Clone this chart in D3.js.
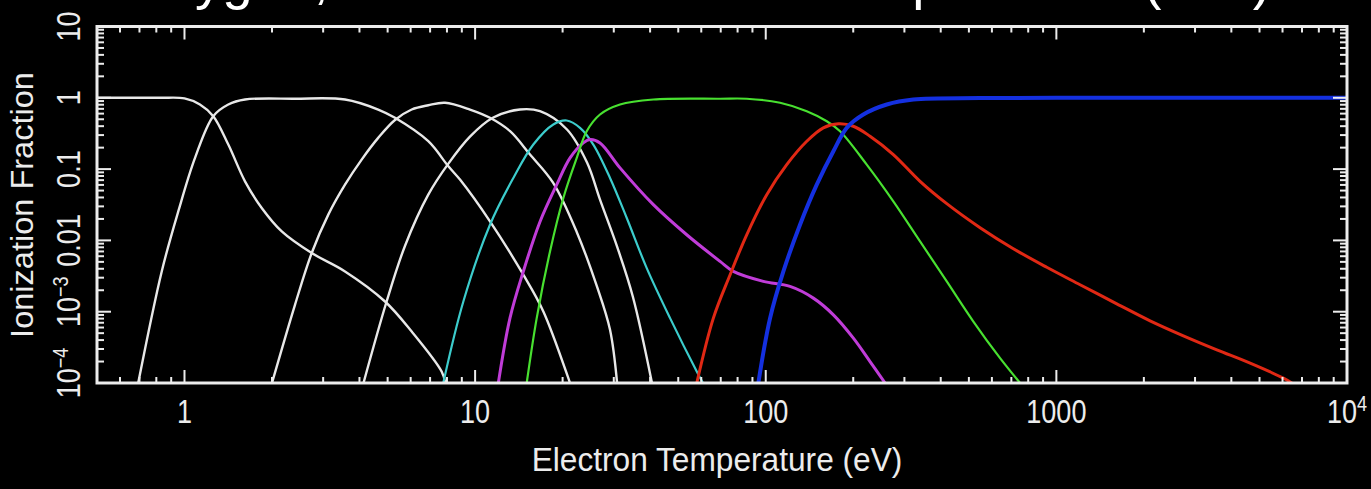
<!DOCTYPE html>
<html><head><meta charset="utf-8">
<script src="https://cdn.jsdelivr.net/npm/d3@7"></script>
<style>html,body{margin:0;padding:0;background:#000;overflow:hidden}svg{display:block}</style>
</head><body>
<svg id="chart" width="1371" height="489"></svg>
<script>
// ---------- data ----------
const xTickValues = [1, 10, 100, 1000, 10000];
const xTickLabels = ["1", "10", "100", "1000", "10^4"];
const yTickValues = [1e-4, 1e-3, 0.01, 0.1, 1, 10];
const yTickLabels = ["10^-4", "10^-3", "0.01", "0.1", "1", "10"];
const xTitle = "Electron Temperature (eV)";
const yTitle = "Ionization Fraction";
const topTitle = "Oxygen, Collisional Ionization Equilibrium (CIE)";

// O I
const o1T = [0.5, 0.82, 1.0, 1.13, 1.256, 1.415, 1.615, 1.844, 2.161, 2.74, 3.567, 4.898, 6.05, 7.67, 7.9];
const o1F = [1, 1, 0.98, 0.805, 0.552, 0.221, 0.0674, 0.0285, 0.01337, 0.00665, 0.00367, 0.00139, 0.000527, 0.000145, 1e-4];
// O II
const o2T = [0.693, 0.835, 0.952, 1.087, 1.256, 1.415, 1.615, 2.40, 3.567, 4.64, 5.30, 6.90, 8.09, 8.87, 11.25, 14.65, 17.17, 20.93, 21.2];
const o2F = [1e-4, 0.00367, 0.0255, 0.1436, 0.552, 0.805, 0.946, 0.97, 0.946, 0.685, 0.524, 0.246, 0.1094, 0.0712, 0.0185, 0.0033, 0.00101, 0.000117, 1e-4];
// O III
const o3T = [2.0, 2.40, 2.74, 3.125, 3.567, 4.07, 4.64, 5.30, 6.05, 6.90, 7.88, 9.60, 11.25, 13.19, 15.45, 18.54, 22.42, 26.27, 29.12, 30.8];
const o3F = [1e-4, 0.00125, 0.00665, 0.0230, 0.0605, 0.136, 0.274, 0.488, 0.685, 0.787, 0.851, 0.685, 0.524, 0.340, 0.160, 0.0646, 0.01283, 0.00224, 0.000557, 1e-4];
// O IV
const o4T = [4.13, 4.96, 5.74, 6.90, 8.09, 9.60, 11.55, 14.27, 16.72, 20.71, 24.27, 26.9, 30.8, 34.9, 40.6];
const o4F = [1e-4, 0.00139, 0.00843, 0.0438, 0.1195, 0.286, 0.529, 0.685, 0.648, 0.359, 0.1234, 0.0373, 0.00816, 0.00162, 1e-4];
// O V (cyan)
const o5T = [7.77, 9.11, 11.25, 13.54, 15.86, 18.58, 20.66, 22.96, 25.51, 29.12, 33.25, 38.95, 46.86, 57.9, 60.8];
const o5F = [1e-4, 0.00139, 0.0166, 0.0752, 0.221, 0.422, 0.480, 0.379, 0.221, 0.0752, 0.0206, 0.00409, 0.000813, 0.000145, 1e-4];
// O VI (magenta)
const o6T = [12.02, 13.18, 14.65, 16.72, 19.09, 21.22, 23.57, 24.85, 26.9, 31.52, 41.05, 53.47, 69.64, 77.36, 98.1, 121.2, 145.8, 170.9, 200.2, 228.5, 257.4];
const o6F = [1e-4, 0.000813, 0.00367, 0.0183, 0.0605, 0.1436, 0.233, 0.260, 0.233, 0.104, 0.0317, 0.0120, 0.00507, 0.00367, 0.00266, 0.00226, 0.00155, 0.000904, 0.000426, 0.0002, 1e-4];
// O VII (green)
const o7T = [15.05, 16.29, 18.10, 20.12, 22.37, 24.21, 26.9, 31.52, 41.05, 69.64, 86.0, 112, 138.4, 162.2, 180.2, 222.6, 274.8, 339.6, 419.6, 518.2, 640.2, 750];
const o7F = [1e-4, 0.000813, 0.00701, 0.0394, 0.1436, 0.340, 0.583, 0.805, 0.946, 0.97, 0.97, 0.851, 0.648, 0.469, 0.340, 0.1156, 0.0353, 0.00968, 0.00266, 0.000728, 0.000223, 1e-4];
// O VIII (red)
const o8T = [57.9, 66.03, 75.4, 86.0, 100.8, 118.1, 138.4, 157.8, 177.8, 200.2, 228.5, 274.8, 339.6, 419.6, 546.4, 711.1, 926.6, 1206.5, 1614, 2101, 2735, 3565, 4642, 6040, 6457];
const o8F = [1e-4, 0.000813, 0.0033, 0.0120, 0.0438, 0.1156, 0.2457, 0.379, 0.431, 0.399, 0.289, 0.160, 0.0674, 0.03276, 0.01508, 0.00765, 0.0042, 0.00239, 0.00129, 0.000745, 0.000459, 0.000292, 0.00019, 0.000117, 1e-4];
// O IX (blue)
const o9T = [94.3, 103.5, 115, 131.2, 149.8, 170.9, 190, 216.7, 260.9, 322.1, 546.4, 1000, 10000];
const o9F = [1e-4, 0.000813, 0.00367, 0.0166, 0.0605, 0.178, 0.379, 0.583, 0.805, 0.946, 0.99, 1, 1];

const seriesT = [o1T, o2T, o3T, o4T, o5T, o6T, o7T, o8T, o9T];
const seriesF = [o1F, o2F, o3F, o4F, o5F, o6F, o7F, o8F, o9F];
const seriesColor = ["#e8e8e8", "#e8e8e8", "#e8e8e8", "#e8e8e8", "#3ccccc", "#c03cd8", "#48e030", "#e02814", "#1430e0"];
const seriesWidth = [2.4, 2.4, 2.4, 2.4, 2.2, 3, 2.2, 3, 4];

// ---------- layout ----------
const W = 1371, H = 489;
const L = 97, R = 1347, T = 26.5, B = 383;
const fontFam = "'Liberation Sans', Arial, sans-serif";
const fg = "#ececec";

const svg = d3.select("#chart");
svg.append("rect").attr("width", W).attr("height", H).attr("fill", "#000");

const x = d3.scaleLog().domain([0.5, 10000]).range([L, R]);
const y = d3.scaleLog().domain([1e-4, 10]).range([B, T]);

svg.append("clipPath").attr("id", "clip").append("rect")
  .attr("x", L).attr("y", T).attr("width", R - L).attr("height", B - T);

// curves
const line = d3.line().x(d => x(d[0])).y(d => y(d[1])).curve(d3.curveCatmullRom.alpha(0.5));
const gCurves = svg.append("g").attr("clip-path", "url(#clip)");
seriesT.forEach((ts, i) => {
  const pts = ts.map((t, j) => [t, seriesF[i][j]]);
  gCurves.append("path").attr("d", line(pts)).attr("fill", "none")
    .attr("stroke", seriesColor[i]).attr("stroke-width", seriesWidth[i])
    .attr("stroke-linejoin", "round").attr("stroke-linecap", "round");
});

// ticks (inward on all four sides)
function logTicks(d0, d1) {
  const out = [];
  for (let e = Math.floor(Math.log10(d0)); e <= Math.ceil(Math.log10(d1)); e++) {
    for (let m = 1; m <= 9; m++) {
      const v = m * Math.pow(10, e);
      if (v >= d0 * 0.999 && v <= d1 * 1.001) out.push({v, major: m === 1});
    }
  }
  return out;
}
const gT = svg.append("g").attr("stroke", fg).attr("stroke-width", 2);
logTicks(0.5, 10000).forEach(t => {
  const len = t.major ? 13 : 6;
  const px = x(t.v);
  gT.append("line").attr("x1", px).attr("x2", px).attr("y1", B).attr("y2", B - len);
  gT.append("line").attr("x1", px).attr("x2", px).attr("y1", T).attr("y2", T + len);
});
logTicks(1e-4, 10).forEach(t => {
  const len = t.major ? 14 : 7;
  const py = y(t.v);
  gT.append("line").attr("y1", py).attr("y2", py).attr("x1", L).attr("x2", L + len);
  gT.append("line").attr("y1", py).attr("y2", py).attr("x1", R).attr("x2", R - len);
});

// frame
svg.append("rect").attr("x", L).attr("y", T).attr("width", R - L).attr("height", B - T)
  .attr("fill", "none").attr("stroke", fg).attr("stroke-width", 3);

// label helper: "10^4" -> 10 with superscript
function writeLabel(sel, s, supSize) {
  const parts = s.split("^");
  sel.append("tspan").text(parts[0]);
  if (parts.length > 1) {
    sel.append("tspan").attr("dy", "-0.55em").attr("font-size", supSize).text(parts[1].replace("-", "\u2212"));
  }
}

// x tick labels
xTickValues.forEach((v, i) => {
  const g = svg.append("g").attr("transform", `translate(${x(v)},423) scale(0.82,1)`);
  const t = g.append("text").attr("x", 0).attr("y", 0).attr("text-anchor", "middle")
    .attr("fill", fg).attr("font-family", fontFam).attr("font-size", 33);
  writeLabel(t, xTickLabels[i], 22);
});

// y tick labels (rotated)
yTickValues.forEach((v, i) => {
  const lab = yTickLabels[i];
  const shift = lab.includes("^") ? -10 : 0;
  const g = svg.append("g").attr("transform", `translate(80,${y(v) + shift}) rotate(-90) scale(0.82,1)`);
  const t = g.append("text").attr("x", 0).attr("y", 0).attr("text-anchor", "middle")
    .attr("fill", fg).attr("font-family", fontFam).attr("font-size", 33);
  writeLabel(t, lab, 22);
});

// axis titles
svg.append("g").attr("transform", "translate(717,471) scale(0.96,1)")
  .append("text").attr("text-anchor", "middle").attr("fill", fg)
  .attr("font-family", fontFam).attr("font-size", 33).text(xTitle);
svg.append("g").attr("transform", "translate(33,205) rotate(-90) scale(1.05,1)")
  .append("text").attr("text-anchor", "middle").attr("fill", fg)
  .attr("font-family", fontFam).attr("font-size", 31).text(yTitle);

// top title: only its descenders reach into the picture, as in the reference
svg.append("text").attr("x", 125).attr("y", -2).attr("text-anchor", "start").attr("fill", "#ffffff")
  .attr("font-family", fontFam).attr("font-size", 54.7).text(topTitle);
</script>
</body></html>
